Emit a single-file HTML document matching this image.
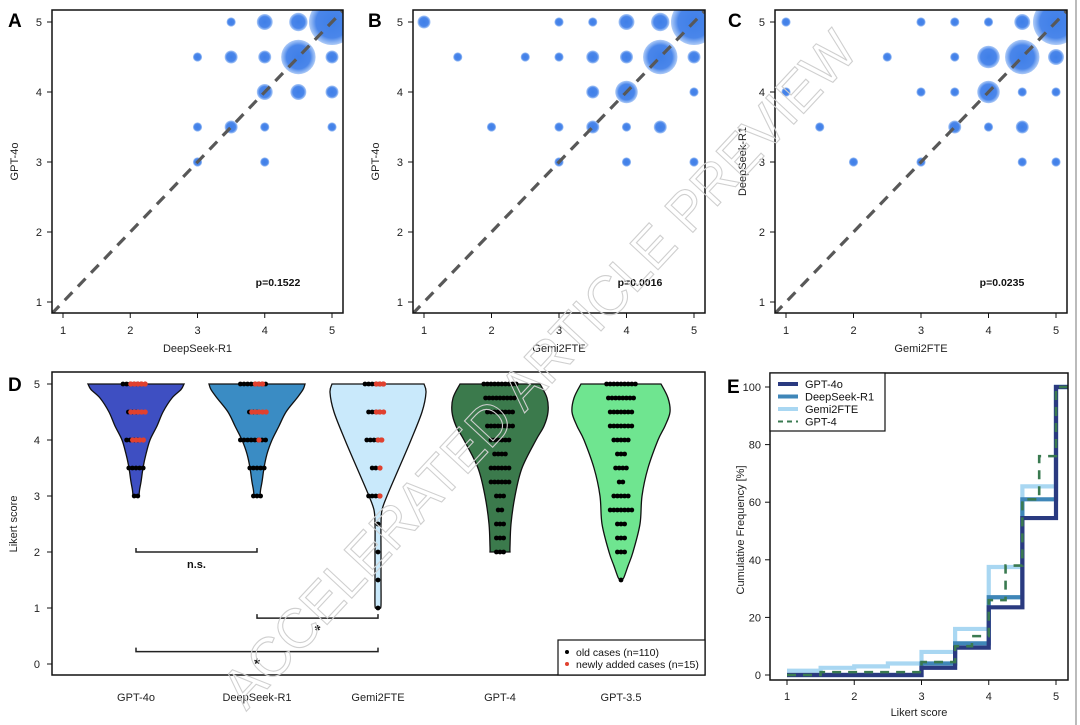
<!DOCTYPE html>
<html><head><meta charset="utf-8"><style>
html,body{margin:0;padding:0;background:#fff;}
svg{display:block;font-family:"Liberation Sans",Arial,sans-serif;}
</style></head><body>
<svg id="fig" width="1080" height="725" viewBox="0 0 1080 725" xmlns="http://www.w3.org/2000/svg">
<defs>
<radialGradient id="bub" cx="50%" cy="50%" r="50%">
<stop offset="0%" stop-color="#3f7fe8"/><stop offset="70%" stop-color="#4a86ea"/><stop offset="100%" stop-color="#6a9ff0" stop-opacity="0.55"/>
</radialGradient>
</defs>
</svg>
<script>
// ---------- DATA ----------
const aX=[3.5,4,4.5,5,3,3.5,4,4.5,5,4,4.5,5,3,3.5,4,5,3,4];
const aY=[5,5,5,5,4.5,4.5,4.5,4.5,4.5,4,4,4,3.5,3.5,3.5,3.5,3,3];
const aN=[1,3,4,25,1,2,2,14,2,3,3,2,1,2,1,1,1,1];
const bX=[1,3,3.5,4,4.5,5,1.5,2.5,3,3.5,4,4.5,5,3.5,4,5,2,3,3.5,4,4.5,3,4,5];
const bY=[5,5,5,5,5,5,4.5,4.5,4.5,4.5,4.5,4.5,4.5,4,4,4,3.5,3.5,3.5,3.5,3.5,3,3,3];
const bN=[2,1,1,3,4,25,1,1,1,2,2,14,2,2,6,1,1,1,2,1,2,1,1,1];
const cX=[1,3,3.5,4,4.5,5,2.5,3.5,4,4.5,5,1,3,3.5,4,4.5,5,1.5,3.5,4,4.5,2,3,4.5,5];
const cY=[5,5,5,5,5,5,4.5,4.5,4.5,4.5,4.5,4,4,4,4,4,4,3.5,3.5,3.5,3.5,3,3,3,3];
const cN=[1,1,1,1,3,25,1,1,6,14,3,1,1,1,6,1,1,1,2,1,2,1,1,1,1];
const scatterTicks=[1,2,3,4,5];
const pValues=["p=0.1522","p=0.0016","p=0.0235"];

const violinNames=["GPT-4o","DeepSeek-R1","Gemi2FTE","GPT-4","GPT-3.5"];
const violinColors=["#3e4fc2","#3a8cc4","#c9e9fb","#3b7a4c","#6fe590"];
const vLev0=[5,4.9,4.75,4.5,4.25,4,3.75,3.5,3.25,3.1,3];
const vW0=[48,45,36,27,21,14,10,7,5,3.5,3];
const vLev1=[5,4.9,4.75,4.5,4.25,4,3.75,3.5,3.25,3.1,3];
const vW1=[48,46,40,29,22,15,10,7,5,3.5,3];
const vLev2=[5,4.85,4.5,4,3.5,3,2.75,2.5,2,1.5,1.05,1];
const vW2=[46,48,44,33,21,9,4,3,3,3,3,2];
const vLev3=[5,4.75,4.5,4.25,4,3.5,3,2.5,2.1,2];
const vW3=[40,47,48,44,36,22,15,11,10,10];
const vLev4=[5,4.75,4.5,4.25,4,3.5,3,2.5,2,1.75,1.55,1.5];
const vW4=[40,47,49,44,37,27,21,19,12,7,3,1];
const dLev0=[5,4.5,4,3.5,3], dBlack0=[6,3,4,5,2], dRed0=[5,5,4,0,0];
const dLev1=[5,4.5,4,3.5,3], dBlack1=[8,3,8,5,3], dRed1=[3,5,1,0,0];
const dLev2=[5,4.5,4,3.5,3,2.5,2,1.5,1], dBlack2=[6,4,5,2,4,1,1,1,1], dRed2=[3,3,2,1,1,0,0,0,0];
const dLev3=[5,4.75,4.5,4.25,4,3.75,3.5,3.25,3,2.75,2.5,2.25,2], dBlack3=[10,9,8,8,6,4,6,6,3,2,3,3,3];
const dLev4=[5,4.75,4.5,4.25,4,3.75,3.5,3.25,3,2.75,2.5,2.25,2,1.75,1.5], dBlack4=[9,8,7,7,5,3,4,2,5,7,3,3,3,0,1];
const violinTicks=[0,1,2,3,4,5];

const ecdfNames=["GPT-4o","DeepSeek-R1","Gemi2FTE","GPT-4"];
const eX0=[1,1.5,2,2.5,3,3.5,4,4.5,5], eY0=[0,0,0,0,2.5,9.5,23.5,54.5,100];
const eX1=[1,1.5,2,2.5,3,3.5,4,4.5,5], eY1=[0,0,0,0,4,11,27,61,100];
const eX2=[1,1.5,2,2.5,3,3.5,4,4.5,5], eY2=[1.5,2.5,3,4,8,16,37.5,65.5,100];
const eX3=[1,1.5,3,3.5,3.75,4,4.25,4.5,4.75,5], eY3=[0,1,4.5,10,13.5,26,38,61,76,100];
const ecdfXTicks=[1,2,3,4,5];
const ecdfYTicks=[0,20,40,60,80,100];

// ---------- HELPERS ----------
const NS="http://www.w3.org/2000/svg";
const svg=document.getElementById('fig');
function mk(tag,attrs,parent){const e=document.createElementNS(NS,tag);for(const k in attrs)e.setAttribute(k,attrs[k]);(parent||svg).appendChild(e);return e;}
function txt(s,attrs,parent){const e=mk('text',attrs,parent);e.textContent=s;return e;}
function catmull(pts){let d="";for(let i=0;i<pts.length-1;i++){const p0=pts[Math.max(0,i-1)],p1=pts[i],p2=pts[i+1],p3=pts[Math.min(pts.length-1,i+2)];
const c1=[p1[0]+(p2[0]-p0[0])/6,p1[1]+(p2[1]-p0[1])/6],c2=[p2[0]-(p3[0]-p1[0])/6,p2[1]-(p3[1]-p1[1])/6];
d+=` C${c1[0].toFixed(1)},${c1[1].toFixed(1)} ${c2[0].toFixed(1)},${c2[1].toFixed(1)} ${p2[0].toFixed(1)},${p2[1].toFixed(1)}`;}return d;}

// ---------- WATERMARK (behind) ----------
const wmg=mk('g',{});



// ---------- SCATTER PANELS ----------
const panels=[
 {letter:"A",L:52,R:343,x1:63,x5:332,xs:aX,ys:aY,ns:aN,xt:"DeepSeek-R1",yt:"GPT-4o",p:pValues[0],px:278,lx:8,yl:13},
 {letter:"B",L:413,R:705,x1:424,x5:694,xs:bX,ys:bY,ns:bN,xt:"Gemi2FTE",yt:"GPT-4o",p:pValues[1],px:640,lx:368,yl:374},
 {letter:"C",L:775,R:1067,x1:786,x5:1056,xs:cX,ys:cY,ns:cN,xt:"Gemi2FTE",yt:"DeepSeek-R1",p:pValues[2],px:1002,lx:728,yl:741}
];
const sT=10,sB=313,sy5=22,sy1=302;
panels.forEach((P,pi)=>{
 const g=mk('g',{});
 
 
 const sx=v=>P.x1+(v-1)*(P.x5-P.x1)/4;
 const sy=v=>sy1-(v-1)*(sy1-sy5)/4;
 const cp=mk('clipPath',{id:'clip'+pi},g);
 mk('rect',{x:P.L,y:sT,width:P.R-P.L,height:sB-sT},cp);
 const bg=mk('g',{'clip-path':`url(#clip${pi})`},g);
 for(let i=0;i<P.xs.length;i++){
  const c=mk('circle',{cx:sx(P.xs[i]),cy:sy(P.ys[i]),r:4.6*Math.sqrt(P.ns[i]),fill:'url(#bub)'},bg);
  
  
 }
 const dl=mk('line',{x1:sx(0.83),y1:sy(0.83),x2:sx(5.17),y2:sy(5.17),stroke:'#585858','stroke-width':3.2,'stroke-dasharray':'11 8'},bg);
 
 
 const box=mk('rect',{x:P.L,y:sT,width:P.R-P.L,height:sB-sT,fill:'none',stroke:'#111','stroke-width':1.5},g);
 
 
 scatterTicks.forEach(t=>{
  mk('line',{x1:sx(t),y1:sB,x2:sx(t),y2:sB+5,stroke:'#111'},g);
  const xl=txt(String(t),{x:sx(t),y:sB+21,'font-size':11,'text-anchor':'middle',fill:'#222'},g);
  
  
  mk('line',{x1:P.L,y1:sy(t),x2:P.L-5,y2:sy(t),stroke:'#111'},g);
  const yl=txt(String(t),{x:P.L-10,y:sy(t)+4,'font-size':11,'text-anchor':'end',fill:'#222'},g);
  
  
 });
 const xt=txt(P.xt,{x:(P.L+P.R)/2,y:352,'font-size':11,'text-anchor':'middle',fill:'#222'},g);
 
 
 const yt=txt(P.yt,{x:P.yl+5,y:(sT+sB)/2,'font-size':11,'text-anchor':'middle',fill:'#222',transform:`rotate(-90 ${P.yl+5} ${(sT+sB)/2})`},g);
 
 
 const pv=txt(P.p,{x:P.px,y:286,'font-size':10.5,'font-weight':'bold','text-anchor':'middle',fill:'#111'},g);
 
 
 const lt=txt(P.letter,{x:P.lx,y:27,'font-size':19,'font-weight':'bold',fill:'#000'},g);
 
 
});

// ---------- VIOLIN PANEL D ----------
(function(){
 const g=mk('g',{});
 
 
 const L=52,R=705,T=372,B=675;
 const vy=v=>664-v*56;
 const centers=[136,257,378,500,621];
 const levs=[vLev0,vLev1,vLev2,vLev3,vLev4], ws=[vW0,vW1,vW2,vW3,vW4];
 const dl=[dLev0,dLev1,dLev2,dLev3,dLev4], db=[dBlack0,dBlack1,dBlack2,dBlack3,dBlack4], dr=[dRed0,dRed1,dRed2,null,null];
 const box=mk('rect',{x:L,y:T,width:R-L,height:B-T,fill:'none',stroke:'#111','stroke-width':1.5},g);
 
 
 for(let k=0;k<5;k++){
  const c=centers[k];
  const right=levs[k].map((l,i)=>[c+ws[k][i],vy(l)]);
  const left=levs[k].map((l,i)=>[c-ws[k][i],vy(l)]).reverse();
  let d=`M${c-ws[k][0]},${vy(levs[k][0])} L${right[0][0]},${right[0][1]}`+catmull(right)+` L${left[0][0]},${left[0][1]}`+catmull(left)+'Z';
  const v=mk('path',{d:d,fill:violinColors[k],stroke:'#111','stroke-width':1.3},g);
  
  
  for(let i=0;i<dl[k].length;i++){
   const nb=db[k][i], nr=dr[k]?dr[k][i]:0, sp=3.6;
   for(let j=0;j<nb;j++){
    const dot=mk('circle',{cx:c+(j-(nb-1)/2)*sp-(nr?4:0),cy:vy(dl[k][i]),r:2.4,fill:'#000'},g);
    
    
   }
   for(let j=0;j<nr;j++){
    const dot=mk('circle',{cx:c+(j-(nr-1)/2)*sp+2,cy:vy(dl[k][i]),r:2.6,fill:'#e0412f'},g);
    
    
   }
  }
  const cl=txt(violinNames[k],{x:c,y:701,'font-size':11,'text-anchor':'middle',fill:'#222'},g);
  
  
 }
 violinTicks.forEach(t=>{
  mk('line',{x1:L,y1:vy(t),x2:L-5,y2:vy(t),stroke:'#111'},g);
  const yl=txt(String(t),{x:L-12,y:vy(t)+4,'font-size':11,'text-anchor':'end',fill:'#222'},g);
  
  
 });
 const yt=txt("Likert score",{x:17,y:524,'font-size':11,'text-anchor':'middle',fill:'#222',transform:'rotate(-90 17 524)'},g);
 
 
 const brs=[[136,257,2,"n.s.",16,11],[257,378,0.82,"*",17,15],[136,378,0.22,"*",17,15]];
 brs.forEach(b=>{
  const y=vy(b[2]);
  const p=mk('path',{d:`M${b[0]},${y-4} V${y} H${b[1]} V${y-4}`,fill:'none',stroke:'#222','stroke-width':1.5},g);
  
  
  const t=txt(b[3],{x:(b[0]+b[1])/2,y:y+b[4],'font-size':b[5],'font-weight':'bold','text-anchor':'middle',fill:'#111'},g);
  
  
 });
 const lg=mk('g',{},g);
 
 
 mk('rect',{x:558,y:640,width:147,height:35,fill:'#fff',stroke:'#111','stroke-width':1.2},lg);
 mk('circle',{cx:567,cy:652,r:2,fill:'#000'},lg);
 mk('circle',{cx:567,cy:664,r:2,fill:'#e0412f'},lg);
 const l1=txt("old cases (n=110)",{x:576,y:656,'font-size':10.5,fill:'#111'},lg);
 
 
 const l2=txt("newly added cases (n=15)",{x:576,y:668,'font-size':10.5,fill:'#111'},lg);
 
 
 const lt=txt("D",{x:8,y:391,'font-size':19,'font-weight':'bold',fill:'#000'},g);
 
 
})();

// ---------- ECDF PANEL E ----------
(function(){
 const g=mk('g',{});
 
 
 const L=770,R=1068,T=373,B=680;
 const ex=v=>787+(v-1)*(1056-787)/4;
 const ey=v=>675-v*(675-387)/100;
 const cp=mk('clipPath',{id:'clipE'},g);
 mk('rect',{x:L,y:T,width:R-L,height:B-T},cp);
 const lg=mk('g',{'clip-path':'url(#clipE)'},g);
 const xs=[eX0,eX1,eX2,eX3], ys=[eY0,eY1,eY2,eY3];
 const cols=["#2a3a80","#3f86b8","#a9d7f2","#3a7a50"];
 [2,1,0,3].forEach(k=>{
  let d=`M${ex(xs[k][0])},${ey(ys[k][0])}`;
  for(let i=1;i<xs[k].length;i++){d+=` H${ex(xs[k][i])} V${ey(ys[k][i])}`;}
  d+=` H${ex(5.3)}`;
  const p=mk('path',{d:d,fill:'none',stroke:cols[k],'stroke-width':k==3?2.6:4.2,'stroke-dasharray':k==3?'9 7':'none'},lg);
  
  
 });
 const box=mk('rect',{x:L,y:T,width:R-L,height:B-T,fill:'none',stroke:'#111','stroke-width':1.5},g);
 
 
 ecdfXTicks.forEach(t=>{
  mk('line',{x1:ex(t),y1:B,x2:ex(t),y2:B+5,stroke:'#111'},g);
  const xl=txt(String(t),{x:ex(t),y:700,'font-size':11,'text-anchor':'middle',fill:'#222'},g);
  
  
 });
 ecdfYTicks.forEach(t=>{
  mk('line',{x1:L,y1:ey(t),x2:L-5,y2:ey(t),stroke:'#111'},g);
  const yl=txt(String(t),{x:L-9,y:ey(t)+4,'font-size':11,'text-anchor':'end',fill:'#222'},g);
  
  
 });
 const xt=txt("Likert score",{x:919,y:716,'font-size':11,'text-anchor':'middle',fill:'#222'},g);
 
 
 const yt=txt("Cumulative Frequency [%]",{x:744,y:530,'font-size':11,'text-anchor':'middle',fill:'#222',transform:'rotate(-90 744 530)'},g);
 
 
 const leg=mk('g',{},g);
 
 
 mk('rect',{x:L,y:T,width:115,height:58,fill:'#fff',stroke:'#111','stroke-width':1.2},leg);
 ecdfNames.forEach((n,k)=>{
  const y=T+11+k*12.5;
  mk('line',{x1:L+8,y1:y,x2:L+28,y2:y,stroke:cols[k],'stroke-width':k==3?2:4,'stroke-dasharray':k==3?'5 4':'none'},leg);
  const t=txt(n,{x:L+35,y:y+4,'font-size':11,fill:'#111'},leg);
  
  
 });
 const lt=txt("E",{x:727,y:393,'font-size':19,'font-weight':'bold',fill:'#000'},g);
 
 
 const edge=mk('line',{x1:1076,y1:0,x2:1076,y2:725,stroke:'#bbb','stroke-width':2},g);
 
 
})();

// ---------- WATERMARK ----------
const wm=txt("ACCELERATED ARTICLE PREVIEW",{x:540,y:388,'font-size':56,'text-anchor':'middle',fill:'none',stroke:'#cfcfcf','stroke-width':1.1,transform:'rotate(-47 540 370)','textLength':900,'lengthAdjust':'spacingAndGlyphs'});


</script>
</body></html>
